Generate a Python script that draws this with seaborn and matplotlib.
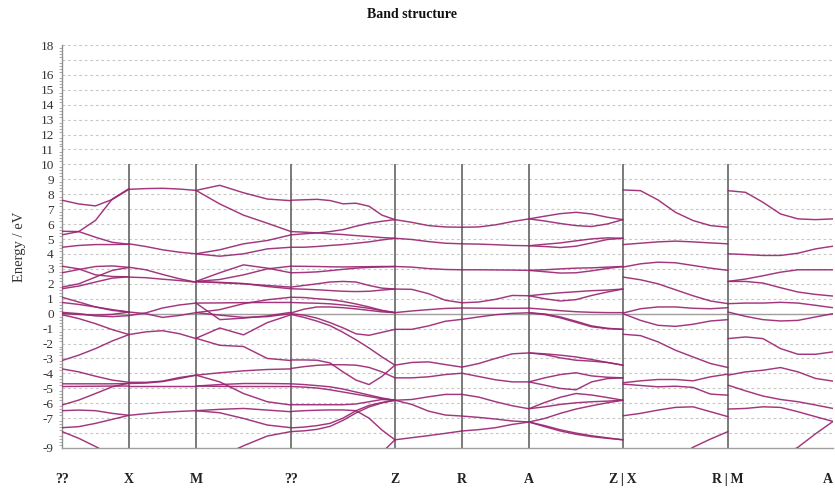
import numpy as np
import pandas as pd
import matplotlib
matplotlib.use("Agg")
import matplotlib.pyplot as plt
from matplotlib.ticker import MultipleLocator, FixedLocator, FuncFormatter
import seaborn as sns

# ---------------- data ----------------
kpath_labels = ["??", "X", "M", "??", "Z", "R", "A", "Z\u2009|\u2009X", "R\u2009|\u2009M", "A"]
kpath_dist = [0, 67, 134, 229, 333, 400, 467, 561, 666, 771]

# energies (eV) sampled evenly along each path segment
seg_G_X = [
    [7.6, 7.35, 7.22, 7.65, 8.33],
    [5.28, 5.5, 6.25, 7.68, 8.38],
    [5.52, 5.5, 5.12, 4.78, 4.65],
    [4.45, 4.57, 4.63, 4.63, 4.65],
    [3.18, 3.0, 2.6, 2.49, 2.47],
    [2.74, 2.96, 3.16, 3.2, 3.1],
    [1.78, 2.0, 2.45, 2.9, 3.1],
    [1.67, 1.85, 2.12, 2.38, 2.47],
    [1.1, 0.78, 0.45, 0.22, 0.11],
    [0.75, 0.62, 0.45, 0.27, 0.11],
    [0.09, 0.0, -0.15, -0.2, -0.13],
    [0.02, -0.05, -0.1, -0.05, 0.11],
    [-0.07, -0.33, -0.67, -1.07, -1.4],
    [-3.14, -2.78, -2.34, -1.83, -1.4],
    [-3.7, -3.9, -4.19, -4.45, -4.6],
    [-4.7, -4.7, -4.7, -4.7, -4.68],
    [-4.88, -4.87, -4.86, -4.85, -4.85],
    [-6.12, -5.79, -5.35, -4.9, -4.65],
    [-6.5, -6.46, -6.5, -6.68, -6.81],
    [-7.64, -7.57, -7.35, -7.08, -6.81],
    [-7.9, -8.35, -8.9, -9.5, -10.2],
]

seg_X_M = [
    [8.33, 8.38, 8.4, 8.35, 8.26],
    [4.68, 4.5, 4.28, 4.12, 4.01],
    [3.11, 2.94, 2.63, 2.34, 2.11],
    [2.45, 2.41, 2.31, 2.22, 2.11],
    [0.11, 0.0, -0.25, -0.12, 0.07],
    [-0.13, 0.05, 0.38, 0.58, 0.71],
    [-1.4, -1.22, -1.14, -1.34, -1.67],
    [-4.6, -4.6, -4.52, -4.28, -4.12],
    [-4.68, -4.65, -4.55, -4.35, -4.12],
    [-4.85, -4.85, -4.85, -4.85, -4.85],
    [-6.81, -6.7, -6.61, -6.55, -6.5],
]

seg_M_G = [
    [8.26, 8.6, 8.1, 7.68, 7.57],
    [8.26, 7.35, 6.6, 6.06, 5.5],
    [4.01, 4.28, 4.68, 4.9, 5.28],
    [4.01, 3.85, 4.01, 4.34, 4.45],
    [2.16, 2.74, 3.27, 3.05, 2.74],
    [2.16, 2.29, 2.6, 3.0, 3.18],
    [2.16, 2.07, 2.0, 1.89, 1.78],
    [2.13, 2.1, 2.02, 1.82, 1.67],
    [0.71, 0.72, 0.74, 0.75, 0.75],
    [0.71, -0.4, -0.3, -0.15, 0.09],
    [0.07, 0.27, 0.67, 0.93, 1.1],
    [0.07, -0.1, -0.25, -0.2, 0.0],
    [-1.65, -0.96, -1.42, -0.6, -0.07],
    [-1.65, -2.12, -2.2, -3.0, -3.14],
    [-4.12, -3.96, -3.83, -3.74, -3.7],
    [-4.12, -4.57, -5.35, -5.9, -6.12],
    [-4.85, -4.75, -4.68, -4.68, -4.7],
    [-4.85, -4.87, -4.88, -4.88, -4.88],
    [-6.5, -6.41, -6.35, -6.46, -6.57],
    [-6.5, -6.64, -7.02, -7.46, -7.64],
    [-10.5, -9.6, -8.85, -8.2, -7.9],
]

seg_G_Z = [
    [7.6, 7.63, 7.66, 7.58, 7.36, 7.4, 7.2, 6.6, 6.3],
    [5.28, 5.35, 5.41, 5.5, 5.63, 5.86, 6.06, 6.19, 6.3],
    [5.5, 5.46, 5.41, 5.35, 5.3, 5.23, 5.17, 5.1, 5.05],
    [4.45, 4.45, 4.5, 4.57, 4.63, 4.72, 4.81, 4.94, 5.05],
    [3.18, 3.17, 3.16, 3.14, 3.13, 3.14, 3.15, 3.16, 3.16],
    [2.74, 2.76, 2.8, 2.88, 2.97, 3.05, 3.1, 3.13, 3.16],
    [1.78, 1.89, 2.0, 2.12, 2.16, 2.12, 1.89, 1.71, 1.65],
    [1.67, 1.64, 1.6, 1.55, 1.5, 1.48, 1.5, 1.58, 1.65],
    [1.1, 1.08, 1.0, 0.94, 0.82, 0.65, 0.45, 0.22, 0.07],
    [0.75, 0.72, 0.7, 0.66, 0.58, 0.48, 0.36, 0.2, 0.07],
    [0.05, 0.3, 0.45, 0.45, 0.4, 0.32, 0.22, 0.12, 0.07],
    [0.0, -0.1, -0.3, -0.6, -0.95, -1.35, -1.45, -1.25, -1.05],
    [-0.05, -0.25, -0.5, -0.8, -1.25, -1.75, -2.3, -2.9, -3.45],
    [-3.1, -3.1, -3.12, -3.3, -3.9, -4.45, -4.75, -4.2, -3.45],
    [-3.67, -3.55, -3.46, -3.42, -3.42, -3.45, -3.6, -3.9, -4.3],
    [-4.7, -4.75, -4.82, -4.9, -5.05, -5.25, -5.45, -5.65, -5.8],
    [-4.88, -4.92, -4.98, -5.1, -5.25, -5.4, -5.55, -5.7, -5.8],
    [-6.1, -6.1, -6.1, -6.1, -6.1, -6.05, -5.9, -5.75, -5.8],
    [-6.55, -6.5, -6.47, -6.45, -6.45, -6.5, -7.0, -7.8, -8.45],
    [-7.65, -7.6, -7.5, -7.35, -7.0, -6.5, -6.15, -5.95, -5.8],
    [-7.9, -7.85, -7.75, -7.55, -7.15, -6.65, -6.25, -5.98, -5.8],
    [-11.0, -11.0, -11.0, -11.0, -11.0, -10.8, -10.2, -9.3, -8.45],
]

seg_Z_R = [
    [6.3, 6.12, 5.9, 5.81, 5.79],
    [5.05, 4.97, 4.83, 4.72, 4.68],
    [3.16, 3.12, 3.02, 2.96, 2.94],
    [1.65, 1.63, 1.34, 0.9, 0.73],
    [0.07, 0.18, 0.27, 0.35, 0.38],
    [-1.05, -1.05, -0.82, -0.51, -0.38],
    [-3.45, -3.27, -3.23, -3.41, -3.58],
    [-4.3, -4.3, -4.23, -4.08, -3.99],
    [-5.8, -5.75, -5.57, -5.41, -5.41],
    [-5.8, -6.08, -6.53, -6.79, -6.86],
    [-8.45, -8.31, -8.17, -8.02, -7.86],
]

seg_R_A = [
    [5.79, 5.81, 5.95, 6.17, 6.35],
    [4.68, 4.66, 4.62, 4.57, 4.55],
    [2.94, 2.94, 2.93, 2.92, 2.9],
    [0.73, 0.78, 0.96, 1.22, 1.2],
    [0.38, 0.37, 0.36, 0.36, 0.37],
    [-0.38, -0.22, -0.07, 0.02, 0.06],
    [-3.58, -3.34, -3.0, -2.69, -2.63],
    [-3.99, -4.21, -4.43, -4.57, -4.57],
    [-5.41, -5.59, -5.9, -6.17, -6.37],
    [-6.86, -6.95, -7.06, -7.19, -7.26],
    [-7.86, -7.77, -7.64, -7.42, -7.26],
]

seg_A_Z = [
    [6.35, 6.53, 6.7, 6.79, 6.68, 6.46, 6.3],
    [6.35, 6.21, 6.04, 5.9, 5.84, 6.01, 6.3],
    [4.55, 4.65, 4.74, 4.88, 5.01, 5.08, 5.05],
    [4.55, 4.5, 4.43, 4.52, 4.74, 4.97, 5.05],
    [2.9, 2.94, 3.0, 3.05, 3.07, 3.12, 3.16],
    [2.9, 2.81, 2.72, 2.74, 2.87, 3.03, 3.16],
    [1.2, 1.31, 1.4, 1.47, 1.54, 1.58, 1.65],
    [1.2, 1.0, 0.85, 0.94, 1.22, 1.45, 1.65],
    [0.37, 0.29, 0.2, 0.13, 0.09, 0.07, 0.07],
    [0.06, -0.02, -0.22, -0.51, -0.82, -0.98, -1.05],
    [0.06, -0.06, -0.28, -0.58, -0.88, -1.0, -1.05],
    [-2.63, -2.69, -2.78, -2.9, -3.07, -3.27, -3.45],
    [-2.63, -2.74, -2.96, -3.12, -3.18, -3.27, -3.45],
    [-4.57, -4.3, -4.08, -3.96, -4.17, -4.26, -4.3],
    [-4.57, -4.79, -5.01, -5.1, -4.57, -4.35, -4.3],
    [-6.37, -5.95, -5.6, -5.35, -5.45, -5.62, -5.8],
    [-6.37, -6.24, -6.08, -5.97, -5.9, -5.86, -5.8],
    [-7.26, -7.02, -6.68, -6.39, -6.17, -5.97, -5.8],
    [-7.26, -7.57, -7.86, -8.08, -8.24, -8.35, -8.45],
    [-7.26, -7.5, -7.78, -8.0, -8.18, -8.32, -8.45],
]

seg_X_R = [
    [8.29, 8.24, 7.62, 6.79, 6.24, 5.9, 5.79],
    [4.63, 4.72, 4.81, 4.86, 4.81, 4.74, 4.68],
    [3.12, 3.34, 3.45, 3.41, 3.23, 3.05, 2.9],
    [2.45, 2.27, 2.0, 1.6, 1.2, 0.85, 0.67],
    [0.04, 0.33, 0.45, 0.45, 0.36, 0.33, 0.4],
    [0.0, -0.45, -0.78, -0.85, -0.71, -0.49, -0.4],
    [-1.38, -1.47, -1.89, -2.45, -2.9, -3.34, -3.61],
    [-4.63, -4.5, -4.41, -4.41, -4.5, -4.23, -4.05],
    [-4.72, -4.81, -4.9, -4.86, -4.94, -5.39, -5.46],
    [-6.84, -6.68, -6.46, -6.28, -6.24, -6.57, -6.9],
    [-11.0, -11.0, -10.5, -9.8, -8.95, -8.4, -7.9],
]

seg_M_A = [
    [8.24, 8.13, 7.46, 6.68, 6.35, 6.3, 6.35],
    [4.01, 3.96, 3.9, 3.9, 4.05, 4.34, 4.52],
    [2.16, 2.32, 2.54, 2.78, 2.94, 2.94, 2.94],
    [2.16, 2.16, 2.05, 1.74, 1.45, 1.29, 1.18],
    [0.67, 0.71, 0.71, 0.76, 0.71, 0.56, 0.4],
    [0.11, -0.18, -0.4, -0.49, -0.45, -0.22, 0.0],
    [-1.67, -1.56, -1.67, -2.34, -2.72, -2.72, -2.56],
    [-4.12, -3.9, -3.79, -3.61, -3.9, -4.34, -4.52],
    [-4.79, -5.17, -5.52, -5.75, -5.9, -6.12, -6.35],
    [-6.39, -6.35, -6.24, -6.28, -6.57, -6.9, -7.22],
    [-11.0, -11.0, -10.5, -9.6, -8.95, -8.05, -7.22],
]

segments = [
    (0, 1, seg_G_X), (1, 2, seg_X_M), (2, 3, seg_M_G), (3, 4, seg_G_Z),
    (4, 5, seg_Z_R), (5, 6, seg_R_A), (6, 7, seg_A_Z),
    (7, 8, seg_X_R), (8, 9, seg_M_A),
]

# ---------------- build long table ----------------
rows = []
uid = 0
for i0, i1, lines in segments:
    for energies in lines:
        ks = np.linspace(kpath_dist[i0], kpath_dist[i1], len(energies))
        for k, e in zip(ks, energies):
            rows.append({"k": k, "E": e, "band": uid})
        uid += 1
df = pd.DataFrame(rows)

# ---------------- plot ----------------
sns.set_theme(style="white")
plt.rcParams["font.family"] = ["Liberation Serif", "DejaVu Serif"]

fig = plt.figure(figsize=(8.35, 4.88), dpi=100)
ax = fig.add_axes([62 / 835, 1 - 448 / 488, 771 / 835, 403 / 488])

ymin, ymax = -9, 18
# horizontal grid
for yv in range(ymin + 1, ymax + 1):
    ax.axhline(yv, color="#c8c8c8", lw=0.8, ls=(0, (2.5, 2.5)), zorder=0)
ax.axhline(0, color="#a0a0a0", lw=1.0, zorder=1)

# k-point separators
ax.vlines(kpath_dist[1:-1], ymin, 10, color="#707070", lw=1.3, zorder=1)

sns.lineplot(data=df, x="k", y="E", units="band", estimator=None, sort=False,
             color="#9a2672", lw=1.05, alpha=0.92, legend=False, ax=ax, zorder=3)

ax.set_xlim(kpath_dist[0], kpath_dist[-1])
ax.set_ylim(ymin, ymax)

for s in ["top", "right"]:
    ax.spines[s].set_visible(False)
ax.spines["left"].set_color("#909090")
ax.spines["bottom"].set_color("#a0a0a0")
ax.spines["left"].set_linewidth(1.0)
ax.spines["bottom"].set_linewidth(1.0)

hidden = {17, -8}
ax.yaxis.set_major_locator(FixedLocator(list(range(ymin, ymax + 1))))
ax.yaxis.set_major_formatter(FuncFormatter(lambda v, p: "" if int(round(v)) in hidden else f"{int(round(v))}"))
ax.yaxis.set_minor_locator(MultipleLocator(0.2))
ax.tick_params(axis="y", which="major", length=4, width=0.8, color="#909090",
               labelsize=9.5, labelcolor="#333333", pad=2)
ax.tick_params(axis="y", which="minor", length=2, width=0.6, color="#a0a0a0", left=True)

ax.set_xticks(kpath_dist)
ax.set_xticklabels(kpath_labels, fontweight="bold", fontsize=10)
ax.tick_params(axis="x", length=0, pad=18, labelcolor="#222222")
ax.get_xticklabels()[-1].set_horizontalalignment("right")

ax.set_xlabel("")
ax.set_ylabel("Energy / eV", fontsize=10.5, color="#333333", labelpad=10)

fig.text(412 / 835, 1 - 14 / 488, "Band structure", ha="center", va="center",
         fontsize=10, fontweight="bold", color="#111111")

fig.savefig("out.png", dpi=100)
